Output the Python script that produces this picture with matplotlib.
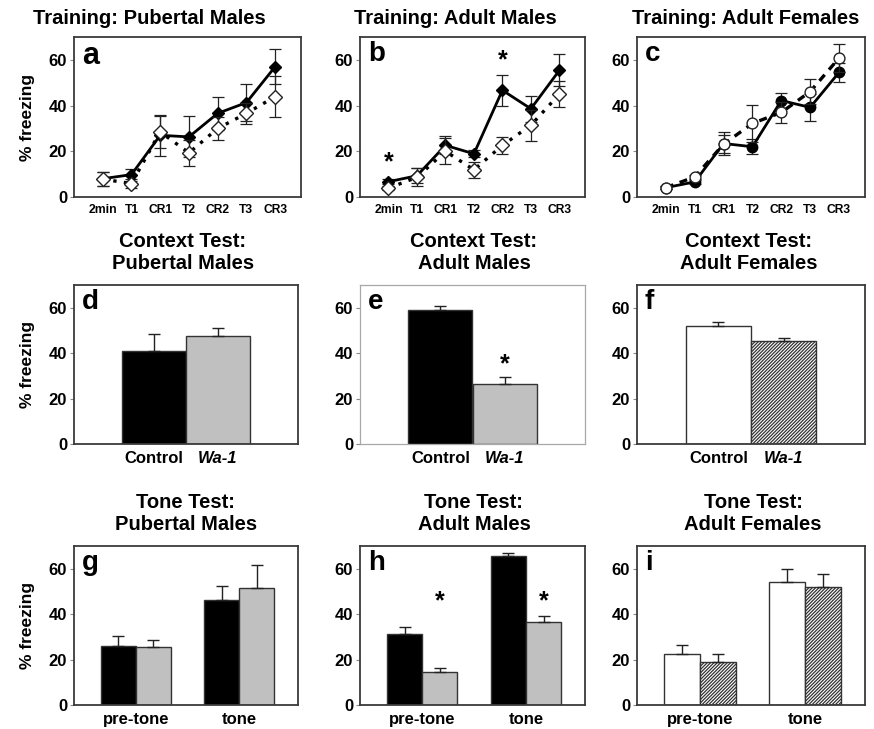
import matplotlib
matplotlib.use('Agg')
import matplotlib.pyplot as plt
import numpy as np

plt.rcParams['font.family'] = ['Liberation Sans', 'DejaVu Sans']
plt.rcParams['font.weight'] = 'bold'
plt.rcParams['hatch.color'] = '#444444'
plt.rcParams['hatch.linewidth'] = 0.9

# ---------------- data ----------------
trial_labels = ['2min', 'T1', 'CR1', 'T2', 'CR2', 'T3', 'CR3']

a_ctrl = [8.0, 9.8, 27.0, 26.3, 36.6, 41.3, 57.0]
a_ctrl_err = [3.0, 2.6, 9.0, 9.0, 7.3, 8.0, 7.7]
a_wa1 = [7.8, 5.9, 28.5, 19.3, 30.0, 36.6, 43.9]
a_wa1_err = [3.0, 2.0, 7.0, 5.7, 5.0, 4.5, 9.0]

b_ctrl = [6.7, 9.3, 22.6, 18.9, 46.7, 38.6, 55.4]
b_ctrl_err = [1.0, 3.3, 4.0, 1.5, 6.8, 5.7, 7.0]
b_wa1 = [3.9, 8.6, 20.0, 11.9, 22.6, 31.4, 45.0]
b_wa1_err = [1.0, 4.0, 5.7, 3.6, 3.8, 6.7, 5.7]
b_star_idx = [0, 4]
b_star_y = [15.0, 59.6]

c_ctrl = [4.1, 6.6, 23.4, 22.0, 42.2, 39.2, 54.5]
c_ctrl_err = [0.5, 1.0, 5.0, 3.3, 3.2, 6.0, 4.0]
c_wa1 = [4.1, 8.8, 23.1, 32.2, 37.0, 46.1, 60.8]
c_wa1_err = [0.5, 1.0, 4.0, 8.0, 4.5, 5.6, 6.0]

context_labels = ['Control', 'Wa-1']
d_vals = [40.8, 47.5]
d_err = [7.7, 3.7]
e_vals = [59.1, 26.6]
e_err = [1.5, 3.1]
e_star_y = [35.2]
f_vals = [52.0, 45.4]
f_err = [1.5, 1.2]

tone_labels = ['pre-tone', 'tone']
g_ctrl = [25.8, 46.3]
g_ctrl_err = [4.7, 6.1]
g_wa1 = [25.6, 51.4]
g_wa1_err = [3.1, 10.2]
h_ctrl = [31.3, 65.6]
h_ctrl_err = [3.1, 1.5]
h_wa1 = [14.7, 36.4]
h_wa1_err = [1.5, 3.0]
h_star_y = [45.7, 45.7]
i_ctrl = [22.4, 54.3]
i_ctrl_err = [3.9, 5.4]
i_wa1 = [18.9, 51.9]
i_wa1_err = [3.5, 5.9]

training_titles = ['Training: Pubertal Males', 'Training: Adult Males', 'Training: Adult Females']
context_titles = ['Context Test:\nPubertal Males', 'Context Test:\nAdult Males', 'Context Test:\nAdult Females']
tone_titles = ['Tone Test:\nPubertal Males', 'Tone Test:\nAdult Males', 'Tone Test:\nAdult Females']

# ---------------- layout ----------------
W, H = 874, 729
fig = plt.figure(figsize=(W / 100, H / 100), dpi=100)

def add_ax(l, r, t, b):
    return fig.add_axes([l / W, 1 - b / H, (r - l) / W, (b - t) / H])

cols = [(74, 301), (360, 585), (637, 865)]
rows = [(37, 197), (285, 444), (546, 705)]

GREY = '#c0c0c0'
FRAME = '#3a3a3a'
TITLE_FS = 14.5

def style(ax, ylabel=False, frame=FRAME, flw=1.3):
    ax.set_ylim(0, 70)
    ax.set_yticks([0, 20, 40, 60])
    ax.tick_params(axis='y', direction='out', length=3, width=0.8, color='#888888',
                   labelsize=12, pad=2)
    ax.tick_params(axis='x', length=0)
    for s in ax.spines.values():
        s.set_color(frame)
        s.set_linewidth(flw)
    for lab in ax.get_yticklabels():
        lab.set_fontweight('bold')
    if ylabel:
        ax.set_ylabel('% freezing', fontsize=12.5, fontweight='bold', labelpad=10)

def letter(ax, s, fs=20):
    ax.text(0.035, 0.975, s, transform=ax.transAxes, fontsize=fs, fontweight='bold',
            va='top', ha='left')

# ---------------- row 1: training ----------------
train_sets = [
    (a_ctrl, a_ctrl_err, a_wa1, a_wa1_err, 'D', (0, (1.0, 2.2)), 'a'),
    (b_ctrl, b_ctrl_err, b_wa1, b_wa1_err, 'D', (0, (1.0, 2.2)), 'b'),
    (c_ctrl, c_ctrl_err, c_wa1, c_wa1_err, 'o', (0, (2.4, 2.0)), 'c'),
]
title_x = [149, 455, 746]
for k, (yc, ec, yw, ew, mk, ls, lt) in enumerate(train_sets):
    ax = add_ax(cols[k][0], cols[k][1], rows[0][0], rows[0][1])
    x = np.arange(len(trial_labels))
    ms = 6.5 if mk == 'D' else 7.5
    msw = 7.5 if mk == 'D' else 7.8
    # control (filled, solid)
    ax.errorbar(x, yc, yerr=ec, fmt='none', ecolor='#222222', elinewidth=0.9,
                capsize=4, capthick=0.9, zorder=2)
    ax.plot(x, yc, '-', color='black', linewidth=2.0, marker=mk, markersize=ms,
            markerfacecolor='black', markeredgecolor='black', zorder=3)
    # Wa-1 (open, dashed) on top
    ax.errorbar(x, yw, yerr=ew, fmt='none', ecolor='#222222', elinewidth=0.9,
                capsize=4, capthick=0.9, zorder=4)
    ax.plot(x, yw, linestyle=ls, color='black', linewidth=2.4, zorder=4,
            dash_capstyle='butt')
    ax.plot(x, yw, linestyle='none', marker=mk, markersize=msw, markerfacecolor='white',
            markeredgecolor='#222222', markeredgewidth=1.0, zorder=5)
    ax.set_xlim(-1.0, 6.9)
    ax.set_xticks(x)
    ax.set_xticklabels(trial_labels, fontsize=8.7, fontweight='bold')
    ax.tick_params(axis='x', pad=5)
    style(ax, ylabel=(k == 0))
    letter(ax, lt, fs=22 if lt == 'a' else 20)
    if lt == 'b':
        for idx, sy in zip(b_star_idx, b_star_y):
            ax.text(x[idx], sy, '*', fontsize=18, fontweight='bold', ha='center', va='center')
    fig.text(title_x[k] / W, 1 - 19 / H, training_titles[k], fontsize=TITLE_FS,
             fontweight='bold', ha='center', va='center')

# ---------------- row 2: context ----------------
ctx_title_x = [183, 474, 749]
ctx_sets = [(d_vals, d_err, 'd'), (e_vals, e_err, 'e'), (f_vals, f_err, 'f')]
for k, (vals, err, lt) in enumerate(ctx_sets):
    ax = add_ax(cols[k][0], cols[k][1] - (3 if k == 0 else 0), rows[1][0], rows[1][1])
    x = np.arange(len(context_labels))
    if k < 2:
        colors = ['black', GREY]
        hatches = [None, None]
    else:
        colors = ['white', 'white']
        hatches = [None, '//////////']
    for j in range(len(vals)):
        ax.bar(x[j], vals[j], width=1.0, color=colors[j], edgecolor='#333333',
               linewidth=1.0, hatch=hatches[j], zorder=2)
    ax.errorbar(x, vals, yerr=[np.zeros(len(err)), err], fmt='none', ecolor='#222222',
                elinewidth=1.0, capsize=4, capthick=1.0, zorder=3)
    ax.set_xlim(-1.25, 2.25)
    ax.set_xticks(x)
    ax.set_xticklabels(context_labels, fontsize=12, fontweight='bold')
    ax.tick_params(axis='x', pad=5)
    ax.get_xticklabels()[1].set_style('italic')
    if lt == 'e':
        style(ax, frame='#a8a8a8', flw=0.9)
        ax.text(x[1], e_star_y[0], '*', fontsize=18, fontweight='bold', ha='center', va='center')
    else:
        style(ax, ylabel=(k == 0))
    letter(ax, lt)
    fig.text(ctx_title_x[k] / W, 1 - 253 / H, context_titles[k], fontsize=TITLE_FS,
             fontweight='bold', ha='center', va='center', linespacing=1.2)

# ---------------- row 3: tone ----------------
tone_title_x = [186, 474, 753]
tone_sets = [(g_ctrl, g_ctrl_err, g_wa1, g_wa1_err, 'g'),
             (h_ctrl, h_ctrl_err, h_wa1, h_wa1_err, 'h'),
             (i_ctrl, i_ctrl_err, i_wa1, i_wa1_err, 'i')]
for k, (yc, ec, yw, ew, lt) in enumerate(tone_sets):
    ax = add_ax(cols[k][0], cols[k][1] - (3 if k == 0 else 0), rows[2][0], rows[2][1])
    x = np.arange(len(tone_labels))
    bw = 0.34
    if k < 2:
        c1, c2, h2 = 'black', GREY, None
    else:
        c1, c2, h2 = 'white', 'white', '//////////'
    ax.bar(x - bw / 2, yc, width=bw, color=c1, edgecolor='#333333', linewidth=1.0, zorder=2)
    ax.bar(x + bw / 2, yw, width=bw, color=c2, edgecolor='#333333', linewidth=1.0,
           hatch=h2, zorder=2)
    ax.errorbar(x - bw / 2, yc, yerr=[np.zeros(len(ec)), ec], fmt='none', ecolor='#222222',
                elinewidth=1.0, capsize=4, capthick=1.0, zorder=3)
    ax.errorbar(x + bw / 2, yw, yerr=[np.zeros(len(ew)), ew], fmt='none', ecolor='#222222',
                elinewidth=1.0, capsize=4, capthick=1.0, zorder=3)
    ax.set_xlim(-0.6, 1.57)
    ax.set_xticks(x)
    ax.set_xticklabels(tone_labels, fontsize=12, fontweight='bold')
    ax.tick_params(axis='x', pad=5)
    style(ax, ylabel=(k == 0))
    letter(ax, lt)
    if lt == 'h':
        for j, sy in enumerate(h_star_y):
            ax.text(x[j] + bw / 2, sy, '*', fontsize=18, fontweight='bold', ha='center', va='center')
    fig.text(tone_title_x[k] / W, 1 - 513 / H, tone_titles[k], fontsize=TITLE_FS,
             fontweight='bold', ha='center', va='center', linespacing=1.2)

fig.savefig('out.png', dpi=100)
